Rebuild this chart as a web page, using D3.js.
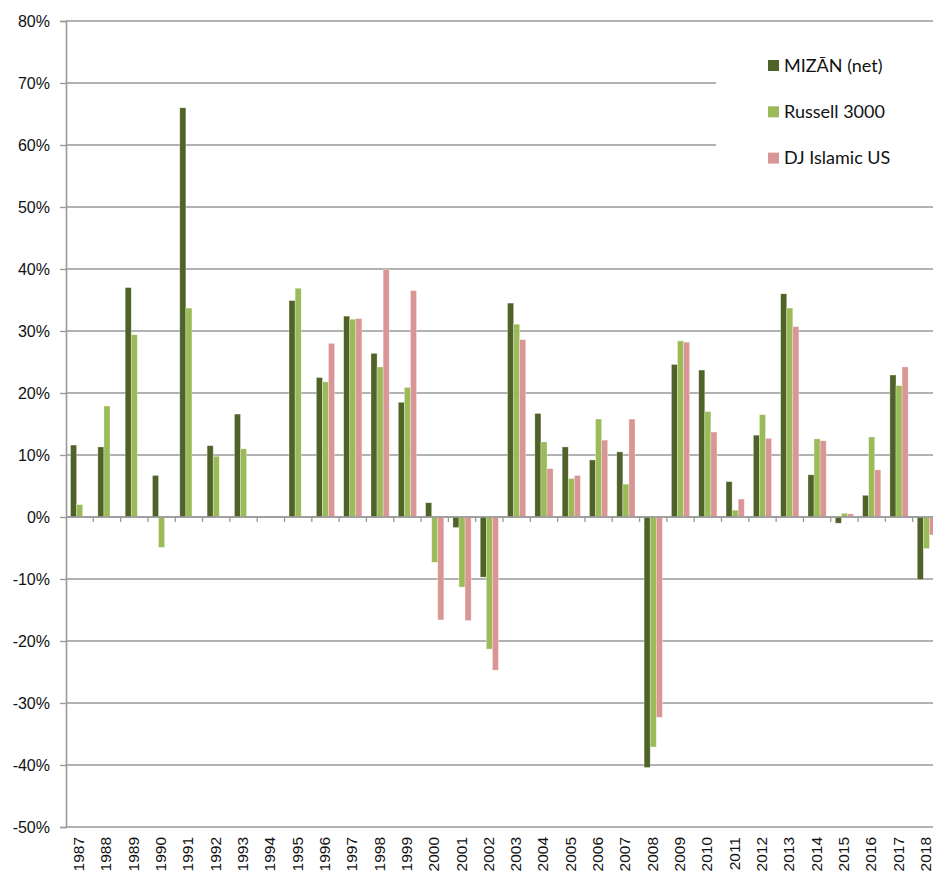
<!DOCTYPE html>
<html>
<head>
<meta charset="utf-8">
<script src="https://cdn.jsdelivr.net/npm/d3@7"></script>
<style>
  html, body { margin: 0; padding: 0; background: #fff; }
  svg { display: block; }
</style>
</head>
<body>
<svg id="chart" width="933" height="873"></svg>
<script>
// Annual returns (%) by calendar year
const years = ["1987","1988","1989","1990","1991","1992","1993","1994","1995","1996","1997","1998","1999","2000","2001","2002","2003","2004","2005","2006","2007","2008","2009","2010","2011","2012","2013","2014","2015","2016","2017","2018"];
const mizan   = [11.6, 11.3, 37.0, 6.7, 66.0, 11.5, 16.6, null, 34.9, 22.5, 32.4, 26.4, 18.5, 2.3, -1.7, -9.7, 34.5, 16.7, 11.3, 9.2, 10.5, -40.4, 24.6, 23.7, 5.7, 13.2, 36.0, 6.8, -1.0, 3.5, 22.9, -10.1];
const russell = [2.0, 17.9, 29.4, -4.9, 33.7, 9.8, 11.0, null, 36.9, 21.8, 31.9, 24.2, 20.9, -7.3, -11.3, -21.3, 31.1, 12.1, 6.2, 15.8, 5.3, -37.1, 28.4, 17.0, 1.1, 16.5, 33.7, 12.6, 0.6, 12.9, 21.2, -5.1];
const djIslamic = [null, null, null, null, null, null, null, null, null, 28.0, 32.0, 39.9, 36.5, -16.6, -16.7, -24.7, 28.6, 7.8, 6.7, 12.4, 15.8, -32.3, 28.2, 13.7, 2.9, 12.7, 30.7, 12.3, 0.5, 7.6, 24.2, -2.9];
const seriesNames = ["MIZĀN (net)", "Russell 3000", "DJ Islamic US"];
const seriesColors = ["#4f6228", "#9bbb59", "#d99694"];
const yTicks = [80, 70, 60, 50, 40, 30, 20, 10, 0, -10, -20, -30, -40, -50];

const seriesValues = [mizan, russell, djIslamic];
const svg = d3.select("#chart");

const x = d3.scaleBand().domain(years).range([66, 940]).paddingInner(1/3).paddingOuter(1/6);
const xInner = d3.scaleBand().domain(d3.range(3)).range([0, x.bandwidth()]);
const y = d3.scaleLinear().domain([-50, 80]).range([827, 21]);

// horizontal gridlines
svg.append("g")
  .selectAll("line")
  .data(yTicks)
  .join("line")
  .attr("x1", 66).attr("x2", 940)
  .attr("y1", d => y(d)).attr("y2", d => y(d))
  .attr("stroke", "#999").attr("stroke-width", 1.3);

// y axis
const yAxis = d3.axisLeft(y).tickValues(yTicks).tickSize(6).tickPadding(10)
  .tickFormat(d => d + "%");
const gy = svg.append("g").attr("transform", "translate(66,0)").call(yAxis);
gy.select(".domain").attr("stroke", "#999").attr("stroke-width", 1.6);
gy.selectAll(".tick line").attr("stroke", "#999").attr("stroke-width", 1.3);
gy.selectAll(".tick text")
  .attr("font-family", "'Liberation Sans', Arial, sans-serif")
  .attr("font-size", 16).attr("fill", "#111");

// bars
const gBars = svg.append("g");
seriesValues.forEach((vals, si) => {
  gBars.append("g")
    .selectAll("rect")
    .data(years.map((yr, i) => ({ yr, v: vals[i] })).filter(d => d.v !== null))
    .join("rect")
    .attr("x", d => x(d.yr) + xInner(si))
    .attr("width", xInner.bandwidth())
    .attr("y", d => y(Math.max(0, d.v)))
    .attr("height", d => Math.abs(y(d.v) - y(0)))
    .attr("fill", seriesColors[si])
    .attr("stroke", "rgba(255,255,255,0.5)")
    .attr("stroke-width", 0.6);
});

// category axis along zero line, with ticks between categories
svg.append("line")
  .attr("x1", 66).attr("x2", 940).attr("y1", y(0)).attr("y2", y(0))
  .attr("stroke", "#999").attr("stroke-width", 1.6);
svg.append("g")
  .selectAll("line")
  .data(years.slice(1))
  .join("line")
  .attr("x1", d => x(d) - x.step() * x.paddingInner() / 2)
  .attr("x2", d => x(d) - x.step() * x.paddingInner() / 2)
  .attr("y1", y(0)).attr("y2", y(0) + 5)
  .attr("stroke", "#999").attr("stroke-width", 1.3);

// year labels at the bottom, rotated
svg.append("g")
  .selectAll("text")
  .data(years)
  .join("text")
  .attr("transform", d => `translate(${x(d) + x.bandwidth() / 2 + 4.5},837) rotate(-90)`)
  .attr("text-anchor", "end")
  .attr("font-family", "'Liberation Sans', Arial, sans-serif")
  .attr("font-size", 15.5)
  .attr("fill", "#111")
  .text(d => d);

// legend
const lg = svg.append("g");
lg.append("rect").attr("x", 716).attr("y", 30).attr("width", 224).attr("height", 160).attr("fill", "#fff");
seriesNames.forEach((name, i) => {
  lg.append("rect")
    .attr("x", 768).attr("y", 60 + i * 46.3)
    .attr("width", 11).attr("height", 11)
    .attr("fill", seriesColors[i]);
  lg.append("text")
    .attr("x", 784).attr("y", 71.5 + i * 46.3)
    .attr("font-family", "Lato, 'Open Sans', sans-serif")
    .attr("font-size", 18)
    .attr("fill", "#111")
    .text(name);
});
</script>
</body>
</html>
